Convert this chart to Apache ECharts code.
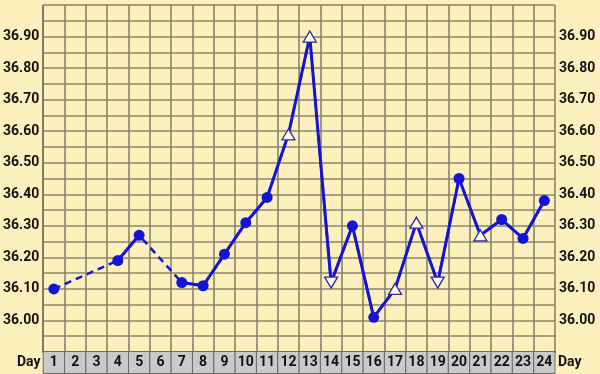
<!DOCTYPE html>
<html><head><meta charset="utf-8">
<script src="https://cdn.jsdelivr.net/npm/echarts@6/dist/echarts.min.js"></script>
<style>html,body{margin:0;padding:0;background:#fcf1bd;}#c{width:600px;height:374px;}</style>
</head><body><div id="c"></div>
<script>
const days = ['1','2','3','4','5','6','7','8','9','10','11','12','13','14','15','16','17','18','19','20','21','22','23','24'];
const temps = [36.10,null,null,36.19,36.27,null,36.12,36.11,36.21,36.31,36.39,36.59,36.90,36.12,36.30,36.01,36.10,36.31,36.12,36.45,36.27,36.32,36.26,36.38];
const markers = ['c','','','c','c','','c','c','c','c','c','u','u','d','c','c','u','u','d','c','u','c','c','c'];

const BLUE = '#1414d6';
const GRID = '#8a836c';
const BG = '#fcf1bd';

const pointData = temps.map((v, i) => {
  if (v === null) return null;
  const m = markers[i];
  if (m === 'c') return { value: v, symbol: 'circle', symbolSize: 11, itemStyle: { color: BLUE, borderColor: BLUE, borderWidth: 0 } };
  return { value: v, symbol: 'triangle', symbolSize: [13, 11], symbolRotate: m === 'd' ? 180 : 0,
           itemStyle: { color: '#fffbe6', borderColor: '#2b2ba8', borderWidth: 1.3 } };
});

const chart = echarts.init(document.getElementById('c'));
const yLabel = v => {
  const r = Math.round(v * 100);
  if (r % 10 !== 0 || r < 3600 || r > 3690) return '';
  return (r / 100).toFixed(2);
};
const yCommon = {
  type: 'value', min: 35.9, max: 37.0, interval: 0.05,
  axisLine: { show: false }, axisTick: { show: false },
  splitLine: { show: true, lineStyle: { color: GRID, width: 1.6 } },
  axisLabel: { formatter: yLabel, color: '#111', fontFamily: 'Roboto', fontWeight: 'bold', fontSize: 14, margin: 4 }
};
chart.setOption({
  backgroundColor: BG,
  animation: false,
  grid: { left: 43, right: 45, top: 5, bottom: 22, show: false },
  xAxis: {
    type: 'category', data: days, boundaryGap: true,
    axisLine: { show: true, lineStyle: { color: '#555', width: 2 } },
    axisTick: { show: false },
    splitLine: { show: true, interval: 0, lineStyle: { color: GRID, width: 1.6 } },
    axisLabel: {
      interval: 0, margin: 0, color: '#111', fontFamily: 'Roboto', fontWeight: 'bold', fontSize: 14,
      backgroundColor: '#cacaca', borderColor: '#6a6a6a', borderWidth: 1,
      width: 20.3, height: 21, lineHeight: 21, align: 'center', verticalAlign: 'top'
    }
  },
  yAxis: [
    Object.assign({}, yCommon, { position: 'left' }),
    Object.assign({}, yCommon, { position: 'right', splitLine: { show: false } })
  ],
  graphic: [
    { type: 'rect', left: 42, top: 5, shape: { width: 2, height: 347 }, style: { fill: '#555' } },
    { type: 'text', left: 17, top: 355, style: { text: 'Day', fill: '#111', font: 'bold 14px Roboto' } },
    { type: 'text', left: 558, top: 355, style: { text: 'Day', fill: '#111', font: 'bold 14px Roboto' } }
  ],
  series: [
    { type: 'line', data: temps, connectNulls: true, showSymbol: false, symbol: 'none', z: 2,
      lineStyle: { color: BLUE, width: 2.5, type: [7, 5] } },
    { type: 'line', data: pointData, connectNulls: false, z: 3,
      lineStyle: { color: BLUE, width: 3 }, itemStyle: { color: BLUE } }
  ]
});
</script></body></html>
